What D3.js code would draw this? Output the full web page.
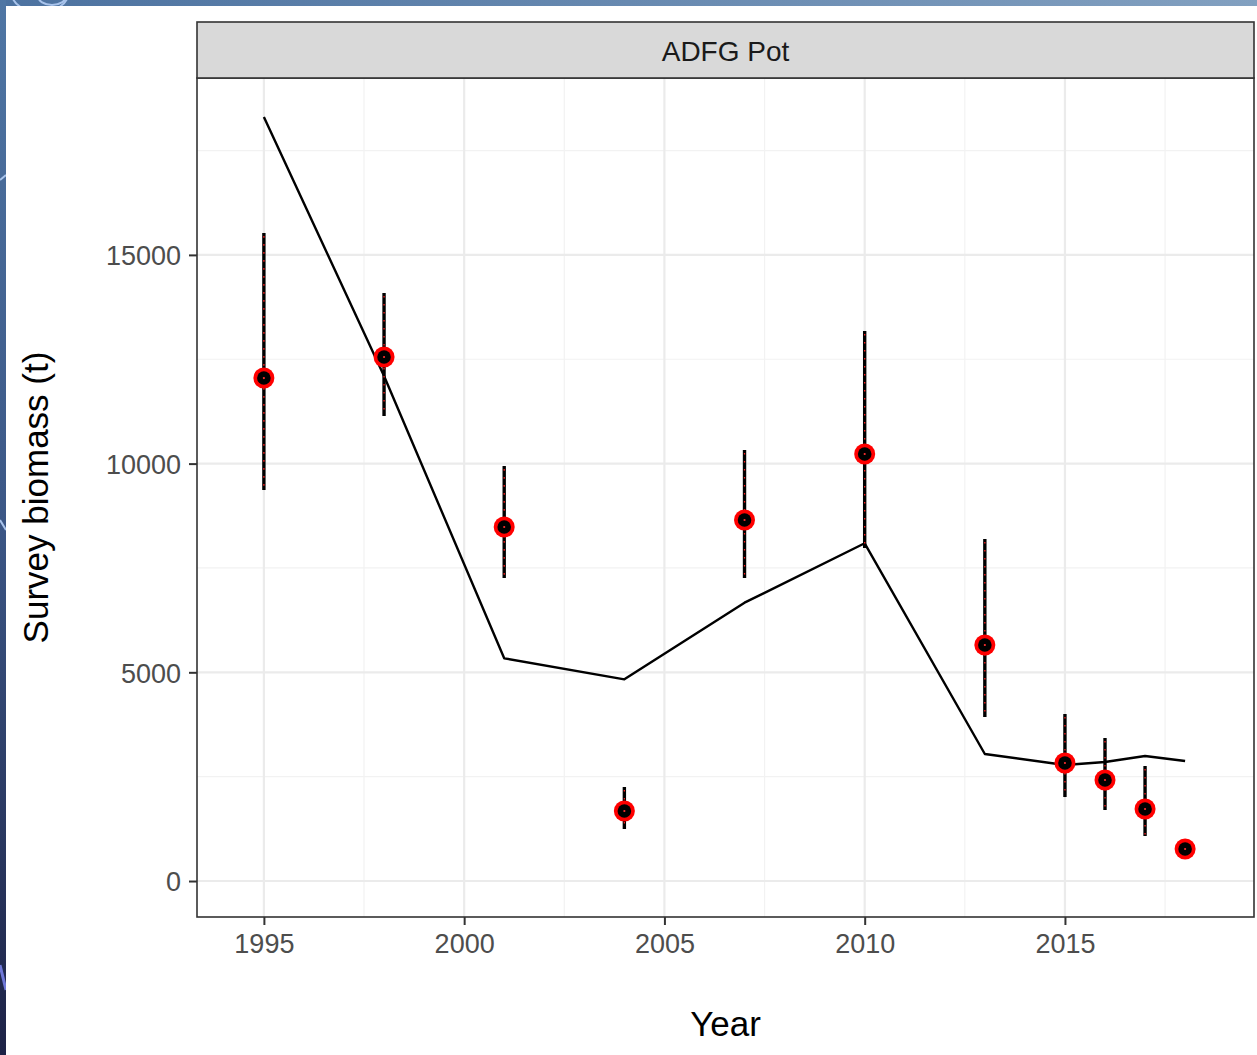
<!DOCTYPE html>
<html>
<head>
<meta charset="utf-8">
<script src="https://cdn.jsdelivr.net/npm/d3@7"></script>
<style>
  html, body { margin: 0; padding: 0; background: #fff; }
  svg { display: block; font-family: "Liberation Sans", Arial, sans-serif; }
</style>
</head>
<body>
<script>
// Survey years with observed biomass and its interval
const years    = [1995, 1998, 2001, 2004, 2007, 2010, 2013, 2015, 2016, 2017, 2018];
const observed = [12050, 12554, 8481, 1677, 8649, 10230, 5654, 2827, 2420, 1725, 767];
const upper    = [15524, 14087, 9942, 2252, 10326, 13177, 8194, 4001, 3426, 2755, null];
const lower    = [9367, 11140, 7259, 1246, 7259, 7978, 3929, 2012, 1701, 1078, null];
// Model-predicted biomass at the same years
const predicted = [18304, 12099, 5335, 4832, 6668, 8091, 3043, 2779, 2851, 2995, 2875];

const xTicks = [1995, 2000, 2005, 2010, 2015];
const yTicks = [0, 5000, 10000, 15000];
const xMinor = [1997.5, 2002.5, 2007.5, 2012.5, 2017.5];
const yMinor = [2500, 7500, 12500, 17500];
const panelTitle = "ADFG Pot";

const W = 1257, H = 1055;
const panel = { left: 197, right: 1254, top: 78, bottom: 917 };

const svg = d3.select("body").append("svg").attr("width", W).attr("height", H);

// Slide frame: blue bands along the top and left edges
const defs = svg.append("defs");
const gTop = defs.append("linearGradient").attr("id", "gTop").attr("x1", 0).attr("x2", 1).attr("y1", 0).attr("y2", 0);
gTop.append("stop").attr("offset", 0).attr("stop-color", "#4c72a0");
gTop.append("stop").attr("offset", 1).attr("stop-color", "#82a0c0");
const gLeft = defs.append("linearGradient").attr("id", "gLeft").attr("x1", 0).attr("x2", 0).attr("y1", 0).attr("y2", 1);
gLeft.append("stop").attr("offset", 0).attr("stop-color", "#4f76a4");
gLeft.append("stop").attr("offset", 0.5).attr("stop-color", "#3b5685");
gLeft.append("stop").attr("offset", 1).attr("stop-color", "#1d2246");
defs.append("clipPath").attr("id", "frameClip")
  .call(c => { c.append("rect").attr("x", 0).attr("y", 0).attr("width", W).attr("height", 6);
               c.append("rect").attr("x", 0).attr("y", 0).attr("width", 6).attr("height", H); });
svg.append("rect").attr("x", 0).attr("y", 0).attr("width", W).attr("height", 6).attr("fill", "url(#gTop)");
svg.append("rect").attr("x", 0).attr("y", 0).attr("width", 6).attr("height", H).attr("fill", "url(#gLeft)");
const deco = svg.append("g").attr("clip-path", "url(#frameClip)").attr("fill", "none")
  .attr("stroke", "#a9c4ec").attr("stroke-width", 2);
deco.append("ellipse").attr("cx", 40).attr("cy", -6).attr("rx", 28).attr("ry", 18);
deco.append("ellipse").attr("cx", 52).attr("cy", -4).attr("rx", 14).attr("ry", 9);
deco.append("line").attr("x1", 0).attr("y1", 180).attr("x2", 6).attr("y2", 175);
deco.append("line").attr("x1", 0).attr("y1", 520).attr("x2", 6).attr("y2", 530);
deco.append("line").attr("x1", 0).attr("y1", 965).attr("x2", 6).attr("y2", 990).attr("stroke", "#6f78d8").attr("stroke-width", 3);

// Scales
const x = d3.scaleLinear().domain([1993.33, 2019.72]).range([panel.left, panel.right]);
const y = d3.scaleLinear().domain([-862, 19238]).range([panel.bottom, panel.top]);

// Panel background and grid
const plot = svg.append("g");
plot.append("rect").attr("x", panel.left).attr("y", panel.top)
  .attr("width", panel.right - panel.left).attr("height", panel.bottom - panel.top).attr("fill", "#fff");

const grid = plot.append("g");
grid.selectAll(".xm").data(xMinor).join("line")
  .attr("x1", d => x(d)).attr("x2", d => x(d)).attr("y1", panel.top).attr("y2", panel.bottom)
  .attr("stroke", "#f2f2f2").attr("stroke-width", 1.2);
grid.selectAll(".ym").data(yMinor).join("line")
  .attr("y1", d => y(d)).attr("y2", d => y(d)).attr("x1", panel.left).attr("x2", panel.right)
  .attr("stroke", "#f2f2f2").attr("stroke-width", 1.2);
grid.selectAll(".xM").data(xTicks).join("line")
  .attr("x1", d => x(d)).attr("x2", d => x(d)).attr("y1", panel.top).attr("y2", panel.bottom)
  .attr("stroke", "#ebebeb").attr("stroke-width", 2.2);
grid.selectAll(".yM").data(yTicks).join("line")
  .attr("y1", d => y(d)).attr("y2", d => y(d)).attr("x1", panel.left).attr("x2", panel.right)
  .attr("stroke", "#ebebeb").attr("stroke-width", 2.2);

// Predicted biomass line
const lineGen = d3.line().x((d, i) => x(years[i])).y(d => y(d));
plot.append("path").datum(predicted).attr("d", lineGen)
  .attr("fill", "none").attr("stroke", "#000").attr("stroke-width", 2.4).attr("stroke-linejoin", "round");

// Observed intervals: black bar with red dashes over it
const obs = years.map((yr, i) => ({ yr, v: observed[i], hi: upper[i], lo: lower[i] }));
const bars = obs.filter(d => d.hi != null);
plot.selectAll(".errB").data(bars).join("line")
  .attr("x1", d => x(d.yr)).attr("x2", d => x(d.yr)).attr("y1", d => y(d.hi)).attr("y2", d => y(d.lo))
  .attr("stroke", "#000").attr("stroke-width", 3.4);
plot.selectAll(".errR").data(bars).join("line")
  .attr("x1", d => x(d.yr)).attr("x2", d => x(d.yr)).attr("y1", d => y(d.hi) + 3).attr("y2", d => y(d.lo))
  .attr("stroke", "#ff2020").attr("stroke-width", 1.3).attr("stroke-dasharray", "1.6,6.4");

// Observed points
plot.selectAll(".ptR").data(obs).join("circle")
  .attr("cx", d => x(d.yr)).attr("cy", d => y(d.v)).attr("r", 10.5).attr("fill", "#ff0000");
plot.selectAll(".ptB").data(obs).join("circle")
  .attr("cx", d => x(d.yr)).attr("cy", d => y(d.v)).attr("r", 6.8).attr("fill", "#000");
plot.selectAll(".ptC").data(obs).join("circle")
  .attr("cx", d => x(d.yr)).attr("cy", d => y(d.v)).attr("r", 1.1).attr("fill", "#ff3030");

// Panel border
svg.append("rect").attr("x", panel.left).attr("y", panel.top)
  .attr("width", panel.right - panel.left).attr("height", panel.bottom - panel.top)
  .attr("fill", "none").attr("stroke", "#333").attr("stroke-width", 1.6);

// Facet strip
svg.append("rect").attr("x", panel.left).attr("y", 22)
  .attr("width", panel.right - panel.left).attr("height", panel.top - 22)
  .attr("fill", "#d9d9d9").attr("stroke", "#333").attr("stroke-width", 1.6);
svg.append("text").attr("x", (panel.left + panel.right) / 2).attr("y", 61)
  .attr("text-anchor", "middle").attr("font-size", 28).attr("fill", "#1a1a1a").text(panelTitle);

// Axes
const xAxis = svg.append("g").attr("transform", `translate(0,${panel.bottom})`)
  .call(d3.axisBottom(x).tickValues(xTicks).tickFormat(d3.format("d")).tickSize(8).tickPadding(9));
const yAxis = svg.append("g").attr("transform", `translate(${panel.left},0)`)
  .call(d3.axisLeft(y).tickValues(yTicks).tickFormat(d3.format("d")).tickSize(8).tickPadding(8));
[xAxis, yAxis].forEach(a => {
  a.select(".domain").remove();
  a.selectAll(".tick line").attr("stroke", "#333").attr("stroke-width", 2);
  a.selectAll(".tick text").attr("fill", "#4d4d4d").attr("font-size", 27)
    .attr("font-family", "Liberation Sans, Arial, sans-serif");
});
yAxis.selectAll(".tick text").attr("dy", "0.36em");

// Axis titles
svg.append("text").attr("x", (panel.left + panel.right) / 2).attr("y", 1036)
  .attr("text-anchor", "middle").attr("font-size", 35).attr("fill", "#000").text("Year");
svg.append("text").attr("transform", `translate(48,${(panel.top + panel.bottom) / 2}) rotate(-90)`)
  .attr("text-anchor", "middle").attr("font-size", 35).attr("fill", "#000").text("Survey biomass (t)");
</script>
</body>
</html>
